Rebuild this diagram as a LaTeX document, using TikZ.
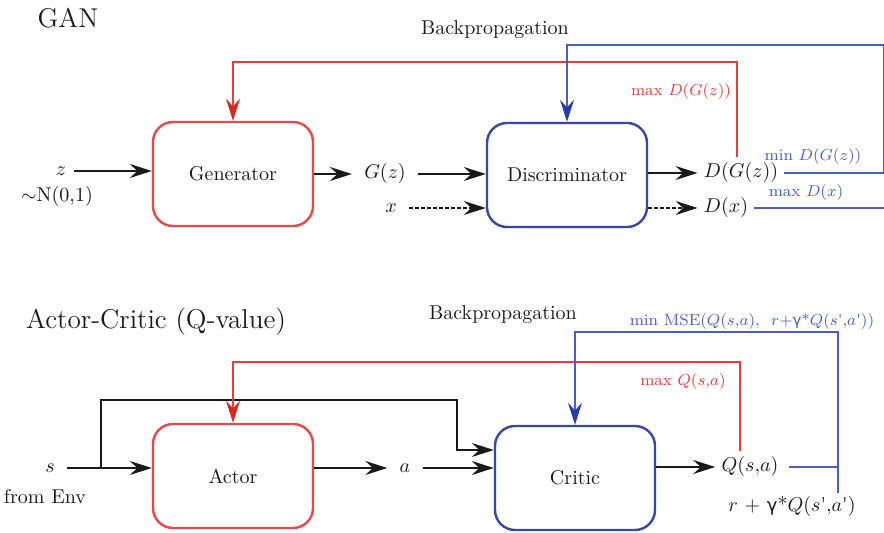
\documentclass[tikz,border=0pt]{standalone}
\usepackage{fontspec}
\newfontfamily\gfont{DejaVu Sans}
\usetikzlibrary{arrows.meta}

\definecolor{boxred}{RGB}{232,72,75}
\definecolor{linered}{RGB}{234,60,60}
\definecolor{tipred}{RGB}{214,40,30}
\definecolor{boxblue}{RGB}{58,69,168}
\definecolor{lineblue}{RGB}{78,92,200}
\definecolor{tipblue}{RGB}{40,60,170}
\definecolor{txt}{RGB}{25,25,25}

\tikzset{
  block/.style={draw, line width=1.2pt, rounded corners=10pt,
    minimum width=80pt, minimum height=52pt, font=\normalsize, text=txt},
  redblock/.style={block, draw=boxred},
  blueblock/.style={block, draw=boxblue},
  lbl/.style={inner sep=0pt, text=txt},
  note/.style={inner sep=0pt, font=\footnotesize},
  flow/.style={line width=0.9pt, draw=txt,
    -{Stealth[length=11pt, width=7pt, inset=3.8pt]}},
  dflow/.style={flow, dash pattern=on 2pt off 1pt},
  redfb/.style={draw=linered, line width=0.7pt},
  bluefb/.style={draw=lineblue, line width=0.7pt},
  redtip/.style={-{Stealth[length=11pt, width=7pt, inset=3.8pt, color=tipred, fill=tipred]}},
  bluetip/.style={-{Stealth[length=11pt, width=7pt, inset=3.8pt, color=tipblue, fill=tipblue]}},
}
% straight tick used after s and a
\newcommand{\tck}{\textquotesingle}

\begin{document}
\begin{tikzpicture}[x=0.5pt, y=-0.5pt]
\useasboundingbox (0,0) rectangle (884,533);
\begin{scope}
\clip (0,0) rectangle (884,533);

% ---------------- GAN ----------------
\node[lbl, font=\fontsize{13.6}{16}\selectfont] (gantitle) at (68,18) {GAN};
\node[lbl] (bp1) at (495,30) {Backpropagation};

\node[redblock] (gen) at (233,174) {Generator};
\node[blueblock] (disc) at (567,175) {Discriminator};

\node[lbl] (z) at (61,171) {$z$};
\node[lbl] (zdist) at (57,197) {$\sim$N(0,1)};
\node[lbl] (Gz) at (385,174) {$G(z)$};
\node[lbl] (x) at (391,208) {$x$};
\node[lbl] (DG) at (741,173) {$D(G(z))$};
\node[lbl] (Dx) at (726,208) {$D(x)$};

\node[note, text=linered] (maxDG) at (681,92) {max $D(G(z))$};
\node[note, text=lineblue] (minDG) at (813,157) {min $D(G(z))$};
\node[note, text=lineblue] (maxDx) at (806,193) {max $D(x)$};

\coordinate (rtop1) at (737,62);
\coordinate (btop1) at (883.5,45);

\draw[flow] ([xshift=4pt]z.east) -- (z -| gen.west);
\draw[flow] (gen.east |- Gz) -- ([xshift=-6pt]Gz.west);
\draw[flow] ([xshift=6pt]Gz.east) -- (Gz -| disc.west);
\draw[dflow] ([xshift=6pt]x.east) -- (x -| disc.west);
\draw[flow] (disc.east |- DG) -- ([xshift=-3pt]DG.west);
\draw[dflow] (disc.east |- Dx) -- ([xshift=-3pt]Dx.west);

\draw[redfb, redtip] ([yshift=3pt]DG.north -| rtop1) -- (rtop1) -| (gen.north);
\draw[bluefb, bluetip] ([xshift=3pt]DG.east) -| (btop1) -| (disc.north);
\draw[bluefb] ([xshift=3pt]Dx.east) -- (Dx -| btop1);

% ---------------- Actor-Critic ----------------
\node[lbl, font=\fontsize{13.6}{16}\selectfont] (actitle) at (156,322) {Actor-Critic (Q-value)};
\node[lbl] (bp2) at (503,315) {Backpropagation};

\node[redblock] (actor) at (233,476) {Actor};
\node[blueblock] (critic) at (575,478) {Critic};

\node[lbl] (s) at (50,468) {$s$};
\node[lbl] (env) at (45,497) {from Env};
\node[lbl] (a) at (405,468) {$a$};
\node[lbl] (Q) at (750,467) {$Q(s,\!a)$};
\node[lbl] (target) at (792,507) {$r$ + {\gfont\fontsize{9}{10}\selectfont γ}*$Q(s$\tck$,\!a$\tck$)$};

\node[note, text=linered] (maxQ) at (683,382) {max $Q(s,\!a)$};
\node[note, text=lineblue] (mse) at (752,322)
  {min MSE($Q(s,\!a)$,\ \ $r$+{\gfont\fontsize{7.5}{9}\selectfont γ}*$Q(s$\tck$,\!a$\tck$)$)};

\coordinate (split) at (101,468);
\coordinate (jog) at (457,400);
\coordinate (rtop2) at (740,362);
\coordinate (btop2) at (838,332);

\draw[flow] ([xshift=6pt]s.east) -- (s -| actor.west);
\draw[flow] (split) |- (jog) |- ([yshift=14pt]critic.west);
\draw[flow] (actor.east |- a) -- ([xshift=-6pt]a.west);
\draw[flow] ([xshift=6pt]a.east) -- (a -| critic.west);
\draw[flow] (critic.east |- Q) -- ([xshift=-3pt]Q.west);

\draw[redfb, redtip] ([yshift=3pt]Q.north -| rtop2) -- (rtop2) -| (actor.north);
\draw[bluefb, bluetip] ([yshift=2pt]target.north -| btop2) -- (btop2) -| (critic.north);
\draw[bluefb] ([xshift=5pt]Q.east) -- (Q -| btop2);
\end{scope}
\end{tikzpicture}
\end{document}
